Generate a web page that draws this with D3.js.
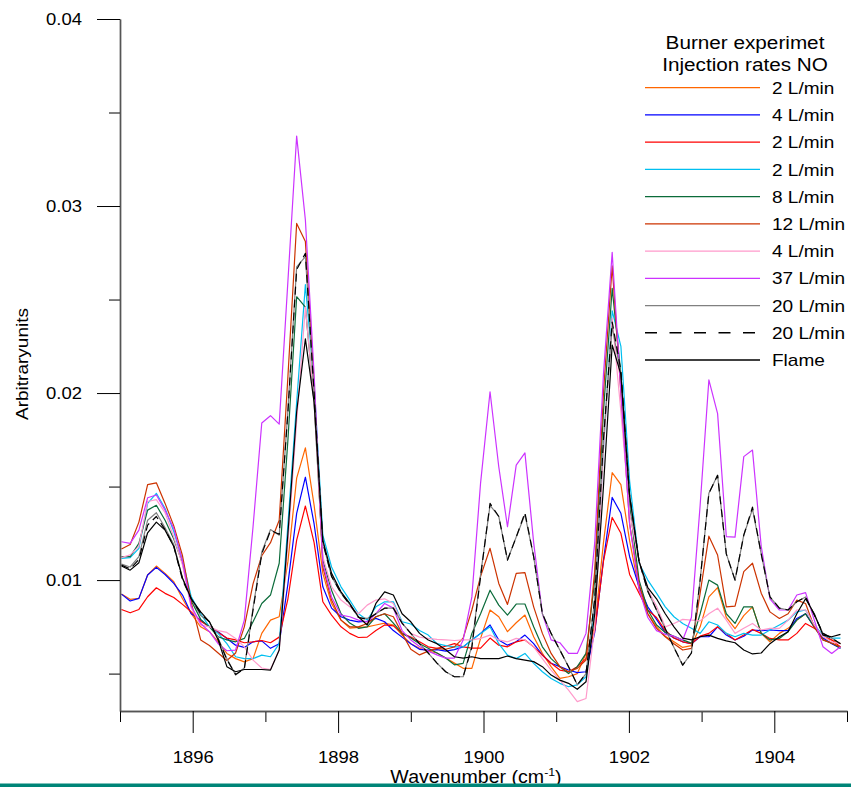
<!DOCTYPE html>
<html>
<head>
<meta charset="utf-8">
<script src="https://cdn.jsdelivr.net/npm/d3@7"></script>
<style>
  body { margin: 0; background: #fff; }
  svg { display: block; }
  text { font-family: "Liberation Sans", Arial, sans-serif; fill: #000; }
</style>
</head>
<body>
<div id="chart"></div>
<script>
// sampling grid (cm-1)
var wavenumber = [
  1895.02,1895.14,1895.26,1895.38,1895.50,1895.62,1895.74,1895.86,1895.98,1896.11,
  1896.23,1896.35,1896.47,1896.59,1896.71,1896.83,1896.95,1897.07,1897.19,1897.31,
  1897.43,1897.55,1897.67,1897.79,1897.91,1898.04,1898.16,1898.28,1898.40,1898.52,
  1898.64,1898.76,1898.88,1899.00,1899.12,1899.24,1899.36,1899.48,1899.60,1899.72,
  1899.84,1899.96,1900.09,1900.21,1900.33,1900.45,1900.57,1900.69,1900.81,1900.93,
  1901.05,1901.17,1901.29,1901.41,1901.53,1901.65,1901.77,1901.89,1902.01,1902.14,
  1902.26,1902.38,1902.50,1902.62,1902.74,1902.86,1902.98,1903.10,1903.22,1903.34,
  1903.46,1903.58,1903.70,1903.82,1903.94,1904.07,1904.19,1904.31,1904.43,1904.55,
  1904.67,1904.79,1904.91];

var orange2 = [
  0.00925,0.00897,0.00902,0.01027,0.01075,0.01036,0.00991,0.00900,0.00820,0.00750,
  0.00724,0.00670,0.00608,0.00580,0.00563,0.00580,0.00715,0.00786,0.00804,0.01100,
  0.01545,0.01707,0.01400,0.01036,0.00875,0.00786,0.00743,0.00747,0.00750,0.00760,
  0.00770,0.00760,0.00706,0.00660,0.00635,0.00620,0.00610,0.00583,0.00556,0.00528,
  0.00528,0.00688,0.00840,0.00804,0.00724,0.00772,0.00813,0.00697,0.00608,0.00537,
  0.00474,0.00483,0.00500,0.00608,0.00750,0.01200,0.01574,0.01510,0.01210,0.00950,
  0.00820,0.00750,0.00700,0.00670,0.00640,0.00650,0.00750,0.00910,0.00960,0.00800,
  0.00740,0.00810,0.00857,0.00715,0.00670,0.00715,0.00742,0.00786,0.00820,0.00750,
  0.00690,0.00680,0.00660];

var blue4 = [
  0.00925,0.00888,0.00902,0.01027,0.01068,0.01030,0.00982,0.00920,0.00820,0.00786,
  0.00750,0.00724,0.00688,0.00652,0.00640,0.00670,0.00675,0.00635,0.00660,0.00980,
  0.01357,0.01550,0.01300,0.00964,0.00850,0.00804,0.00786,0.00777,0.00780,0.00795,
  0.00777,0.00730,0.00695,0.00660,0.00630,0.00625,0.00628,0.00620,0.00628,0.00643,
  0.00680,0.00715,0.00760,0.00680,0.00652,0.00670,0.00706,0.00660,0.00599,0.00555,
  0.00537,0.00519,0.00505,0.00510,0.00720,0.01107,0.01442,0.01357,0.01125,0.00964,
  0.00857,0.00790,0.00720,0.00690,0.00670,0.00660,0.00697,0.00697,0.00750,0.00706,
  0.00680,0.00700,0.00733,0.00730,0.00733,0.00730,0.00730,0.00795,0.00820,0.00750,
  0.00690,0.00660,0.00635];

var red2 = [
  0.00843,0.00825,0.00843,0.00911,0.00959,0.00929,0.00907,0.00870,0.00830,0.00780,
  0.00750,0.00720,0.00690,0.00680,0.00665,0.00670,0.00677,0.00665,0.00695,0.00900,
  0.01214,0.01396,0.01200,0.00884,0.00813,0.00750,0.00715,0.00693,0.00695,0.00730,
  0.00760,0.00755,0.00715,0.00695,0.00670,0.00643,0.00635,0.00646,0.00660,0.00643,
  0.00636,0.00636,0.00690,0.00652,0.00643,0.00670,0.00680,0.00643,0.00599,0.00555,
  0.00519,0.00510,0.00537,0.00580,0.00730,0.01100,0.01335,0.01250,0.01030,0.00930,
  0.00840,0.00800,0.00730,0.00690,0.00670,0.00660,0.00700,0.00715,0.00750,0.00715,
  0.00680,0.00706,0.00736,0.00715,0.00688,0.00680,0.00680,0.00715,0.00768,0.00742,
  0.00706,0.00680,0.00643];

var cyan2 = [
  0.01116,0.01120,0.01170,0.01410,0.01464,0.01383,0.01260,0.01107,0.00910,0.00820,
  0.00750,0.00715,0.00660,0.00590,0.00580,0.00580,0.00599,0.00590,0.00660,0.01300,
  0.01950,0.02580,0.02050,0.01240,0.01070,0.00964,0.00893,0.00820,0.00786,0.00857,
  0.00884,0.00884,0.00777,0.00765,0.00730,0.00706,0.00660,0.00650,0.00643,0.00643,
  0.00680,0.00715,0.00750,0.00660,0.00599,0.00580,0.00608,0.00555,0.00510,0.00474,
  0.00448,0.00430,0.00440,0.00483,0.00850,0.01700,0.02440,0.02250,0.01530,0.01090,
  0.01000,0.00930,0.00857,0.00804,0.00768,0.00742,0.00715,0.00777,0.00760,0.00715,
  0.00697,0.00715,0.00706,0.00706,0.00733,0.00760,0.00786,0.00830,0.00840,0.00760,
  0.00706,0.00690,0.00690];

var green8 = [
  0.01125,0.01125,0.01196,0.01374,0.01400,0.01320,0.01220,0.01090,0.00890,0.00790,
  0.00750,0.00697,0.00680,0.00670,0.00688,0.00777,0.00875,0.00920,0.01090,0.01750,
  0.02515,0.02460,0.01950,0.01107,0.00946,0.00820,0.00770,0.00742,0.00750,0.00804,
  0.00820,0.00770,0.00715,0.00690,0.00660,0.00636,0.00610,0.00583,0.00547,0.00555,
  0.00715,0.00820,0.00946,0.00866,0.00813,0.00872,0.00872,0.00750,0.00643,0.00580,
  0.00537,0.00500,0.00537,0.00608,0.01000,0.01900,0.02560,0.02100,0.01400,0.01000,
  0.00840,0.00760,0.00720,0.00700,0.00680,0.00663,0.00820,0.01000,0.00973,0.00820,
  0.00768,0.00857,0.00857,0.00715,0.00680,0.00688,0.00724,0.00786,0.00820,0.00750,
  0.00680,0.00663,0.00635];

var darkOrange12 = [
  0.01166,0.01190,0.01310,0.01510,0.01520,0.01410,0.01290,0.01130,0.00880,0.00680,
  0.00650,0.00610,0.00570,0.00610,0.00750,0.00980,0.01130,0.01200,0.01320,0.02090,
  0.02907,0.02810,0.02050,0.01070,0.00893,0.00786,0.00750,0.00750,0.00768,0.00804,
  0.00820,0.00804,0.00715,0.00630,0.00600,0.00620,0.00635,0.00630,0.00643,0.00690,
  0.00840,0.01020,0.01170,0.00982,0.00870,0.01036,0.01040,0.00857,0.00715,0.00608,
  0.00537,0.00510,0.00528,0.00572,0.01050,0.02000,0.02680,0.02000,0.01300,0.00980,
  0.00820,0.00742,0.00697,0.00660,0.00626,0.00635,0.00930,0.01235,0.01134,0.00857,
  0.00861,0.01045,0.01090,0.00930,0.00830,0.00795,0.00820,0.00893,0.00875,0.00750,
  0.00680,0.00663,0.00643];

var pink4 = [
  0.01120,0.01135,0.01180,0.01420,0.01430,0.01360,0.01230,0.01080,0.00850,0.00760,
  0.00750,0.00730,0.00720,0.00688,0.00643,0.00572,0.00530,0.00522,0.00626,0.01200,
  0.01850,0.02460,0.01950,0.01125,0.00964,0.00893,0.00857,0.00820,0.00866,0.00893,
  0.00900,0.00875,0.00770,0.00715,0.00695,0.00688,0.00683,0.00680,0.00677,0.00680,
  0.00680,0.00688,0.00706,0.00680,0.00670,0.00688,0.00680,0.00643,0.00580,0.00519,
  0.00465,0.00412,0.00350,0.00367,0.00750,0.01700,0.02400,0.01900,0.01360,0.01100,
  0.00950,0.00860,0.00750,0.00768,0.00790,0.00786,0.00782,0.00820,0.00850,0.00786,
  0.00715,0.00742,0.00768,0.00733,0.00742,0.00742,0.00786,0.00840,0.00840,0.00760,
  0.00697,0.00670,0.00660];

var purple37 = [
  0.01205,0.01196,0.01267,0.01440,0.01455,0.01374,0.01276,0.01100,0.00860,0.00768,
  0.00724,0.00660,0.00622,0.00626,0.00786,0.01285,0.01840,0.01879,0.01834,0.02600,
  0.03374,0.02925,0.02100,0.01090,0.00910,0.00813,0.00804,0.00786,0.00777,0.00820,
  0.00875,0.00850,0.00730,0.00680,0.00645,0.00620,0.00600,0.00583,0.00583,0.00680,
  0.00910,0.01520,0.02007,0.01606,0.01285,0.01615,0.01680,0.01200,0.00820,0.00680,
  0.00665,0.00608,0.00608,0.00715,0.01200,0.02100,0.02752,0.02000,0.01300,0.00950,
  0.00800,0.00730,0.00710,0.00700,0.00680,0.00800,0.01400,0.02070,0.01890,0.01232,
  0.01230,0.01660,0.01695,0.01180,0.00900,0.00840,0.00840,0.00920,0.00933,0.00786,
  0.00643,0.00608,0.00643];

var gray20 = [
  0.01085,0.01070,0.01125,0.01320,0.01360,0.01280,0.01190,0.01010,0.00900,0.00810,
  0.00777,0.00690,0.00580,0.00492,0.00530,0.00850,0.01150,0.01270,0.01240,0.01910,
  0.02675,0.02730,0.02000,0.01200,0.01020,0.00930,0.00870,0.00800,0.00795,0.00820,
  0.00850,0.00850,0.00770,0.00715,0.00660,0.00610,0.00556,0.00510,0.00483,0.00483,
  0.00650,0.01030,0.01400,0.01340,0.01107,0.01230,0.01350,0.01125,0.00820,0.00715,
  0.00626,0.00537,0.00440,0.00500,0.00900,0.01750,0.02355,0.02100,0.01450,0.01100,
  0.00940,0.00840,0.00740,0.00640,0.00545,0.00610,0.01000,0.01464,0.01560,0.01140,
  0.01000,0.01240,0.01380,0.01140,0.00910,0.00850,0.00840,0.00884,0.00910,0.00813,
  0.00715,0.00690,0.00660];

var dashed20 = [
  0.01080,0.01060,0.01110,0.01294,0.01340,0.01270,0.01180,0.01000,0.00900,0.00820,
  0.00777,0.00685,0.00575,0.00495,0.00525,0.00840,0.01140,0.01265,0.01245,0.01900,
  0.02660,0.02747,0.02000,0.01200,0.01020,0.00930,0.00870,0.00800,0.00790,0.00820,
  0.00850,0.00850,0.00770,0.00715,0.00660,0.00610,0.00556,0.00510,0.00483,0.00483,
  0.00640,0.01020,0.01410,0.01340,0.01107,0.01230,0.01360,0.01125,0.00820,0.00715,
  0.00626,0.00537,0.00440,0.00500,0.00900,0.01750,0.02380,0.02120,0.01450,0.01100,
  0.00940,0.00840,0.00740,0.00640,0.00545,0.00610,0.01000,0.01464,0.01560,0.01140,
  0.01000,0.01240,0.01390,0.01140,0.00910,0.00850,0.00840,0.00884,0.00910,0.00813,
  0.00715,0.00690,0.00660];

var flame = [
  0.01075,0.01053,0.01093,0.01253,0.01310,0.01267,0.01180,0.01010,0.00900,0.00830,
  0.00777,0.00680,0.00537,0.00510,0.00522,0.00522,0.00522,0.00519,0.00626,0.01250,
  0.01900,0.02290,0.01950,0.01214,0.01036,0.00937,0.00875,0.00804,0.00760,0.00875,
  0.00937,0.00920,0.00820,0.00777,0.00715,0.00680,0.00660,0.00627,0.00590,0.00583,
  0.00590,0.00580,0.00580,0.00580,0.00594,0.00580,0.00572,0.00564,0.00537,0.00492,
  0.00465,0.00448,0.00416,0.00456,0.00820,0.01500,0.02257,0.02100,0.01450,0.01100,
  0.00960,0.00900,0.00820,0.00750,0.00690,0.00680,0.00697,0.00706,0.00688,0.00675,
  0.00665,0.00626,0.00605,0.00610,0.00660,0.00697,0.00724,0.00820,0.00900,0.00820,
  0.00706,0.00697,0.00710];

var legendTitle = ["Burner experimet", "Injection rates NO"];
var legendLabels = ["2 L/min", "4 L/min", "2 L/min", "2 L/min", "8 L/min", "12 L/min",
                    "4 L/min", "37 L/min", "20 L/min", "20 L/min", "Flame"];
var xMajor = [1896, 1898, 1900, 1902, 1904],
    xMinor = [1895, 1897, 1899, 1901, 1903, 1905],
    yMajor = [0.01, 0.02, 0.03, 0.04],
    yMinor = [0.005, 0.015, 0.025, 0.035];

var series = [
  {values: orange2,      color: "#ff6600"},
  {values: blue4,        color: "#0000ff"},
  {values: red2,         color: "#ff0000"},
  {values: cyan2,        color: "#00bff0"},
  {values: green8,       color: "#0b6b3a"},
  {values: darkOrange12, color: "#cc3300"},
  {values: pink4,        color: "#ff9acb"},
  {values: purple37,     color: "#cc33ff"},
  {values: gray20,       color: "#808080"},
  {values: dashed20,     color: "#000000", dash: true},
  {values: flame,        color: "#000000"}
];
series.forEach(function (s, i) { s.label = legendLabels[i]; });

var width = 851, height = 789,
    stretch = 1.12; // glyphs in the original are a bit wide

var svg = d3.select("#chart").append("svg")
    .attr("width", width)
    .attr("height", height);

var x = d3.scaleLinear().domain([1895, 1905]).range([120, 847]);
var y = d3.scaleLinear().domain([0.003, 0.04]).range([711, 19]);

//Lines
var line = d3.line()
    .x(function (d, i) { return x(wavenumber[i]); })
    .y(function (d) { return y(d); });

svg.append("g").attr("class", "lines")
  .selectAll("path")
  .data(series)
  .enter().append("path")
    .attr("d", function (d) { return line(d.values); })
    .attr("fill", "none")
    .attr("stroke", function (d) { return d.color; })
    .attr("stroke-width", 1.2)
    .attr("stroke-linejoin", "round")
    .attr("stroke-dasharray", function (d) { return d.dash ? "8,5" : null; });

//Axes
function styleAxis(g) {
  g.attr("font-size", null).attr("font-family", null).attr("color", "#000");
  g.select(".domain").attr("stroke", "#555").attr("stroke-width", 1.4);
}

svg.append("g").attr("transform", "translate(120,0)")
  .call(d3.axisLeft(y).tickValues(yMinor).tickSize(11).tickSizeOuter(0).tickFormat(""))
  .call(styleAxis);

svg.append("g").attr("transform", "translate(120,0)")
  .call(d3.axisLeft(y).tickValues(yMajor).tickSize(23).tickSizeOuter(0).tickFormat(d3.format(".2f")))
  .call(styleAxis)
  .selectAll("text")
    .attr("font-size", 16.5)
    .attr("x", -38 / stretch)
    .attr("transform", "scale(" + stretch + ",1)");

svg.append("g").attr("transform", "translate(0,711)")
  .call(d3.axisBottom(x).tickValues(xMinor).tickSize(11).tickSizeOuter(0).tickFormat(""))
  .call(styleAxis);

svg.append("g").attr("transform", "translate(0,711)")
  .call(d3.axisBottom(x).tickValues(xMajor).tickSize(22).tickSizeOuter(0).tickFormat(d3.format("d")))
  .call(styleAxis)
  .selectAll("text")
    .attr("font-size", 16.5)
    .attr("y", 52)
    .attr("dy", 0)
    .attr("transform", "scale(" + stretch + ",1)");

//Axis titles
svg.append("text")
  .attr("transform", "translate(28,364) rotate(-90) scale(" + stretch + ",1)")
  .attr("text-anchor", "middle")
  .attr("font-size", 17)
  .text("Arbitraryunits");

var xTitle = svg.append("text")
  .attr("transform", "translate(476,783) scale(" + stretch + ",1)")
  .attr("text-anchor", "middle")
  .attr("font-size", 17.5);
xTitle.append("tspan").text("Wavenumber (cm");
xTitle.append("tspan").attr("font-size", 11).attr("dy", -7).text("-1");
xTitle.append("tspan").attr("dy", 7).text(")");

svg.append("rect")
  .attr("x", 0).attr("y", 783.5)
  .attr("width", width).attr("height", 3.5)
  .attr("fill", "#008578");

//Legend
var legend = svg.append("g").attr("class", "legend");

legend.selectAll("text.title")
  .data(legendTitle)
  .enter().append("text")
    .attr("class", "title")
    .attr("transform", function (d, i) {
      return "translate(745," + (48.5 + i * 22) + ") scale(" + stretch + ",1)";
    })
    .attr("text-anchor", "middle")
    .attr("font-size", 18.5)
    .text(function (d) { return d; });

var rows = legend.selectAll("g.row")
  .data(series)
  .enter().append("g")
    .attr("class", "row")
    .attr("transform", function (d, i) { return "translate(0," + (87.7 + i * 27.23) + ")"; });

rows.append("line")
  .attr("x1", 645).attr("x2", 760)
  .attr("stroke", function (d) { return d.color; })
  .attr("stroke-width", 1.3)
  .attr("stroke-dasharray", function (d) { return d.dash ? "12,12.5" : null; });

rows.append("text")
  .attr("transform", "translate(772,0) scale(" + stretch + ",1)")
  .attr("dy", "0.36em")
  .attr("font-size", 17)
  .text(function (d) { return d.label; });
</script>
</body>
</html>
